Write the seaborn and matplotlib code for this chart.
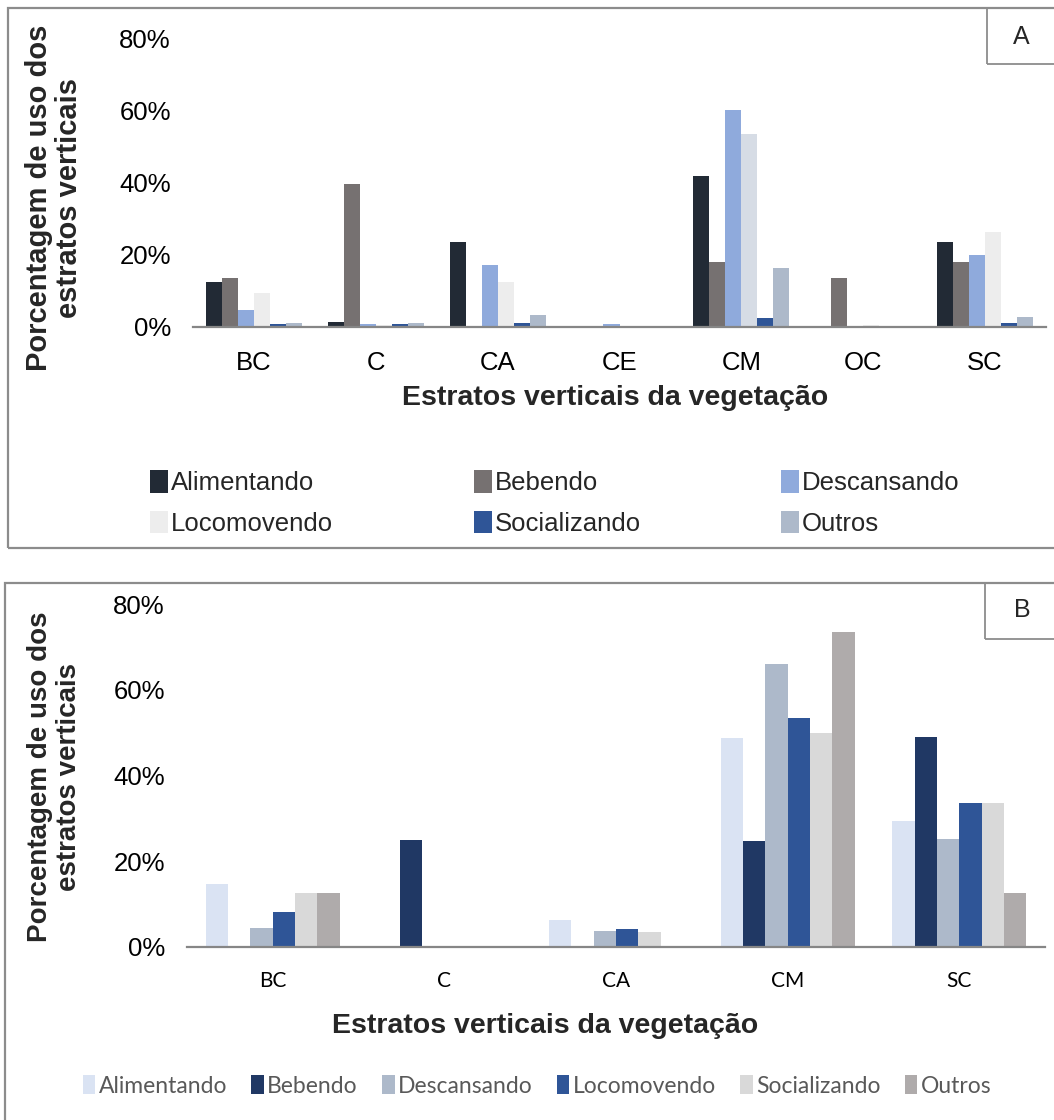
import numpy as np
import pandas as pd
import matplotlib
matplotlib.use("Agg")
import matplotlib.pyplot as plt
from matplotlib.patches import Rectangle
from matplotlib.ticker import PercentFormatter
import seaborn as sns

# ---- data -------------------------------------------------------------
behaviours = ["Alimentando", "Bebendo", "Descansando",
              "Locomovendo", "Socializando", "Outros"]

strata_a = ["BC", "C", "CA", "CE", "CM", "OC", "SC"]
alimentando_a = [12.4, 1.4, 23.5, 0.0, 41.8, 0.0, 23.6]
bebendo_a = [13.6, 39.6, 0.0, 0.0, 17.9, 13.6, 17.9]
descansando_a = [4.6, 0.8, 17.3, 0.8, 60.0, 0.0, 19.9]
locomovendo_a = [9.5, 0.6, 12.4, 0.0, 53.5, 0.6, 26.2]
socializando_a = [0.8, 0.8, 1.0, 0.0, 2.4, 0.0, 1.1]
outros_a = [1.0, 1.0, 3.2, 0.0, 16.4, 0.0, 2.9]

strata_b = ["BC", "C", "CA", "CM", "SC"]
alimentando_b = [14.7, 0.0, 6.2, 48.7, 29.5]
bebendo_b = [0.0, 24.9, 0.0, 24.8, 49.0]
descansando_b = [4.4, 0.0, 3.7, 66.0, 25.2]
locomovendo_b = [8.2, 0.0, 4.1, 53.4, 33.5]
socializando_b = [12.5, 0.0, 3.4, 49.8, 33.5]
outros_b = [12.7, 0.0, 0.0, 73.4, 12.6]

y_ticks = [0, 20, 40, 60, 80]
y_label = "Porcentagem de uso dos\nestratos verticais"
x_label = "Estratos verticais da vegetação"

colors_a = ["#222A35", "#767171", "#8FAADC", "#EDEDED", "#2F5597", "#ADB9CA"]
colors_b = ["#DAE3F3", "#203864", "#ADB9CA", "#2F5597", "#D9D9D9", "#AFABAB"]


def long_table(strata, series):
    rows = []
    for name, vals in zip(behaviours, series):
        for s, v in zip(strata, vals):
            rows.append({"estrato": s, "comportamento": name, "valor": v / 100})
    return pd.DataFrame(rows)


df_a = long_table(strata_a, [alimentando_a, bebendo_a, descansando_a,
                             locomovendo_a, socializando_a, outros_a])
df_b = long_table(strata_b, [alimentando_b, bebendo_b, descansando_b,
                             locomovendo_b, socializando_b, outros_b])

sns.set_theme(style="white")
plt.rcParams["font.family"] = ["Liberation Sans", "DejaVu Sans"]

W, H = 1054, 1120
fig = plt.figure(figsize=(W / 100, H / 100), dpi=100)
fig.patch.set_facecolor("white")


def fx(px):
    return px / W


def fy(py):
    return 1 - py / H


AXIS_GREY = "#868686"
BORDER_GREY = "#8C8C8C"


def style_axes(ax, n, tick_font, tick_size, pad_x):
    ax.set_xlim(-0.5, n - 0.5)
    ax.set_ylim(0, 0.8)
    ax.set_yticks([t / 100 for t in y_ticks])
    ax.yaxis.set_major_formatter(PercentFormatter(1.0, decimals=0))
    for side in ["left", "top", "right"]:
        ax.spines[side].set_visible(False)
    ax.spines["bottom"].set_color(AXIS_GREY)
    ax.spines["bottom"].set_linewidth(1.6)
    ax.set_xticks(np.arange(-0.5, n, 1.0), minor=True)
    ax.tick_params(axis="x", which="minor", length=7, width=1.6,
                   color=AXIS_GREY, direction="out")
    ax.tick_params(axis="x", which="major", length=0, pad=pad_x)
    ax.tick_params(axis="y", which="major", length=0, pad=16,
                   labelsize=18.5, labelcolor="black")
    for lab in ax.get_xticklabels():
        lab.set_fontfamily(tick_font)
        lab.set_fontsize(tick_size)
        lab.set_color("black")
    for lab in ax.get_yticklabels():
        lab.set_fontfamily(["Liberation Sans", "DejaVu Sans"])
    ax.set_xlabel("")
    ax.set_ylabel("")
    ax.grid(False)
    ax.set_facecolor("white")


# ---- panel A ----------------------------------------------------------
ax_a = fig.add_axes([fx(193), fy(327), fx(1046) - fx(193), fy(38) - fy(327)])
sns.barplot(data=df_a, x="estrato", y="valor", hue="comportamento",
            hue_order=behaviours, order=strata_a, palette=colors_a,
            saturation=1, width=0.79, linewidth=0, legend=False, ax=ax_a)
# the CM bar of Locomovendo carries a bluish grey fill
for bar in ax_a.containers[3]:
    if abs(bar.get_x() + bar.get_width() / 2 - (4 + 0.79 / 12)) < 0.05:
        bar.set_facecolor("#D6DCE5")
style_axes(ax_a, len(strata_a), ["Liberation Sans"], 18.5, 17)

fig.text(fx(54), fy(198), y_label, rotation=90, ha="center", va="center",
         fontsize=21, fontweight="bold", linespacing=1.12)
fig.text(fx(615), fy(398), x_label, ha="center", va="center",
         fontsize=20.5, fontweight="bold")

handles_a = [Rectangle((0, 0), 1, 1, facecolor=c, edgecolor="none")
             for c in colors_a]
order_a = [0, 3, 1, 4, 2, 5]
fig.legend([handles_a[i] for i in order_a], [behaviours[i] for i in order_a],
           ncol=3, loc="center", bbox_to_anchor=(fx(140), fy(546), fx(830), fy(460) - fy(546)),
           mode="expand", frameon=False, fontsize=18.5, handlelength=0.7,
           handleheight=0.95, handletextpad=0.12, labelspacing=0.6,
           borderaxespad=0)

fig.add_artist(Rectangle((fx(8), fy(548)), 1.2, fy(8) - fy(548),
                         transform=fig.transFigure, fill=False,
                         edgecolor=BORDER_GREY, linewidth=1.6))
fig.add_artist(Rectangle((fx(987), fy(64)), 1.2, fy(8) - fy(64),
                         transform=fig.transFigure, fill=False,
                         edgecolor=BORDER_GREY, linewidth=1.3))
fig.text(fx(1021), fy(37), "A", ha="center", va="center", fontsize=18)

# ---- panel B ----------------------------------------------------------
ax_b = fig.add_axes([fx(187), fy(947), fx(1045) - fx(187), fy(604) - fy(947)])
sns.barplot(data=df_b, x="estrato", y="valor", hue="comportamento",
            hue_order=behaviours, order=strata_b, palette=colors_b,
            saturation=1, width=0.78, linewidth=0, legend=False, ax=ax_b)
style_axes(ax_b, len(strata_b), ["Lato", "DejaVu Sans"], 15, 17)

fig.text(fx(55), fy(777), y_label, rotation=90, ha="center", va="center",
         fontsize=20, fontweight="bold", linespacing=1.15)
fig.text(fx(545), fy(1026), x_label, ha="center", va="center",
         fontsize=20.5, fontweight="bold")

handles_b = [Rectangle((0, 0), 1, 1, facecolor=c, edgecolor="none")
             for c in colors_b]
leg_b = fig.legend(handles_b, behaviours, ncol=6, loc="center",
                   bbox_to_anchor=(fx(537), fy(1086)), frameon=False,
                   prop={"family": ["Lato", "DejaVu Sans"], "size": 16.5},
                   handlelength=0.55, handleheight=0.9, handletextpad=0.15,
                   columnspacing=1.05, borderaxespad=0)
for t in leg_b.get_texts():
    t.set_color("#595959")

fig.add_artist(Rectangle((fx(5), fy(1130)), 1.2, fy(583) - fy(1130),
                         transform=fig.transFigure, fill=False,
                         edgecolor=BORDER_GREY, linewidth=1.6))
fig.add_artist(Rectangle((fx(985), fy(639)), 1.2, fy(583) - fy(639),
                         transform=fig.transFigure, fill=False,
                         edgecolor=BORDER_GREY, linewidth=1.3))
fig.text(fx(1022), fy(610), "B", ha="center", va="center", fontsize=18)

fig.savefig("out.png", dpi=100, facecolor="white")
